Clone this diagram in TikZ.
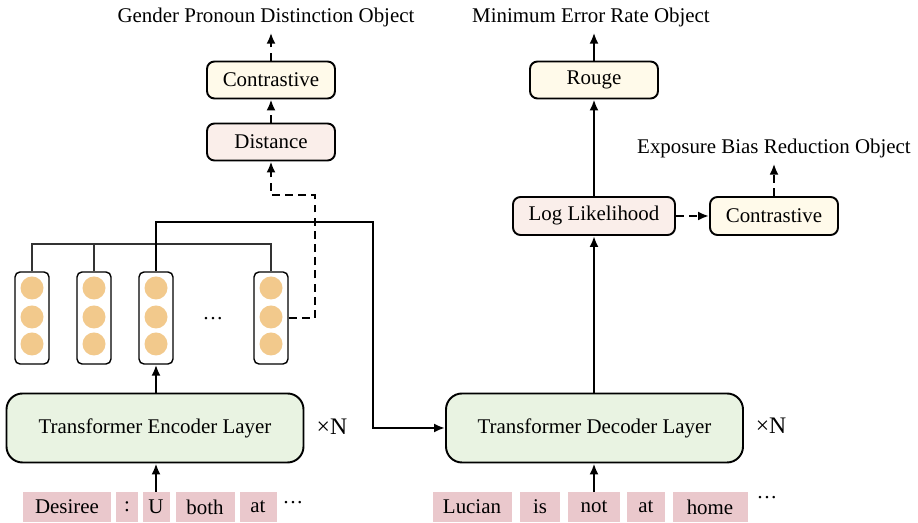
\documentclass[tikz,border=0pt]{standalone}
\usepackage{fontspec}
\setmainfont{Liberation Serif}
\usetikzlibrary{arrows.meta,positioning,calc}
\definecolor{tokpink}{RGB}{234,200,204}
\definecolor{layergreen}{RGB}{233,243,226}
\definecolor{creamfill}{RGB}{255,250,234}
\definecolor{blushfill}{RGB}{250,238,234}
\definecolor{unitorange}{RGB}{242,201,140}

\begin{document}
\begin{tikzpicture}[x=1cm,y=1cm,font=\fontsize{11.9}{13.5}\selectfont,
  flow/.style={-{Latex[length=2.2mm,width=1.8mm]},draw=black,line width=1.4pt},
  dflow/.style={flow,dash pattern=on 4.5pt off 3pt},
  bus/.style={draw=black!80,line width=0.6pt},
  token/.style={fill=tokpink,minimum height=0.6cm,inner sep=0pt},
  layer/.style={draw=black,fill=layergreen,line width=1.1pt,rounded corners=0.32cm,
    minimum width=5.94cm,minimum height=1.38cm},
  repeat/.style={font=\fontsize{13.5}{15}\selectfont},
  loss/.style={draw=black,line width=1.1pt,rounded corners=0.15cm,
    minimum width=2.56cm,minimum height=0.74cm},
  vec/.style={draw=black,line width=0.8pt,rounded corners=0.1cm,fill=white,
    minimum width=0.68cm,minimum height=1.84cm},
  unit/.style={circle,fill=unitorange,minimum size=0.46cm,inner sep=0pt}]
\useasboundingbox (0,0) rectangle (18.36,10.46);

% Source dialogue tokens and the encoder stack.
\node[token,minimum width=1.76cm] (src1) at (1.34,0.32) {Desiree};
\node[token,minimum width=0.44cm] (src2) at (2.54,0.32) {:};
\node[token,minimum width=0.54cm] (src3) at (3.12,0.32) {U};
\node[token,minimum width=1.18cm] (src4) at (4.10,0.32) {both};
\node[token,minimum width=0.74cm] (src5) at (5.16,0.32) {at};
\node (srcdots) at (5.86,0.36) {···};
\node[layer] (encoder) at (3.10,1.90) {Transformer Encoder Layer};
\node[repeat] (encrep) at (6.64,1.92) {×N};
\draw[flow] (src3.north) -- (src3.north |- encoder.south);

% Hidden states, one column per token.
\foreach \name/\x in {col1/0.64,col2/1.88,col3/3.12,col4/5.42} {
  \node[vec] (\name) at (\x,4.10) {};
  \foreach \y [count=\i] in {4.70,4.12,3.58}
    \node[unit] (\name-\i) at (\x,\y) {};
}
\node (coldots) at (4.26,4.04) {···};
\draw[flow] (col3.south |- encoder.north) -- (col3.south);
\coordinate (busr) at (5.42,5.58);
\draw[bus] (col1.north) |- (busr) -- (col4.north);
\draw[bus] (col2.north) -- (col2.north |- busr);

% Encoder output feeds the decoder.
\node[layer] (decoder) at (11.89,1.90) {Transformer Decoder Layer};
\node[repeat] (decrep) at (15.42,1.94) {×N};
\coordinate (memturn) at (7.46,6.02);
\draw[flow] (col3.north) |- (memturn) |- (decoder.west);

% Target tokens.
\node[token,minimum width=1.58cm] (tgt1) at (9.44,0.32) {Lucian};
\node[token,minimum width=0.80cm] (tgt2) at (10.80,0.32) {is};
\node[token,minimum width=1.04cm] (tgt3) at (11.88,0.32) {not};
\node[token,minimum width=0.76cm] (tgt4) at (12.92,0.32) {at};
\node[token,minimum width=1.50cm] (tgt5) at (14.20,0.32) {home};
\node (tgtdots) at (15.34,0.46) {···};
\draw[flow] (tgt3.north) -- (tgt3.north |- decoder.south);

% Pronoun branch on the encoder side.
\node[loss,fill=blushfill] (dist) at (5.42,7.62) {Distance};
\node[loss,fill=creamfill] (gpcon) at (5.42,8.86) {Contrastive};
\node (gpobj) at (5.32,10.12) {Gender Pronoun Distinction Object};
\coordinate (gpturn) at (6.30,6.56);
\draw[dflow] (col4.east) -| (gpturn) -| (dist.south);
\draw[dflow] (dist.north) -- (gpcon.south);
\draw[dflow] (gpcon.north) -- (gpcon.north |- gpobj.south);

% Objectives on the decoder side.
\node[loss,fill=blushfill,minimum width=3.24cm,minimum height=0.76cm] (loglik) at (11.88,6.14) {Log Likelihood};
\node[loss,fill=creamfill] (rouge) at (11.88,8.86) {Rouge};
\node (merobj) at (11.82,10.12) {Minimum Error Rate Object};
\node[loss,fill=creamfill,minimum height=0.76cm] (ebcon) at (15.48,6.14) {Contrastive};
\node (ebobj) at (15.48,7.50) {Exposure Bias Reduction Object};
\draw[flow] (decoder.north -| loglik) -- (loglik.south);
\draw[flow] (loglik.north) -- (rouge.south);
\draw[flow] (rouge.north) -- (rouge.north |- merobj.south);
\draw[dflow] (loglik.east) -- (ebcon.west);
\draw[dflow] (ebcon.north) -- (ebobj.south);
\end{tikzpicture}
\end{document}
